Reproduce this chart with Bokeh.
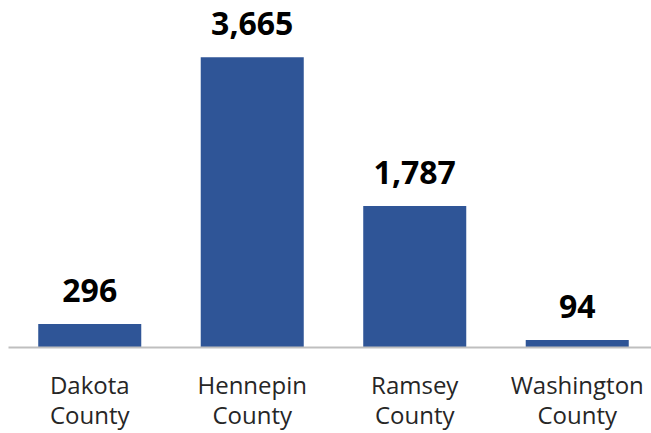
from bokeh.plotting import figure
from bokeh.models import Range1d, FixedTicker, ColumnDataSource
from bokeh.core.properties import value
from bokeh.embed import file_html
from bokeh.resources import INLINE

categories = ["Dakota\nCounty", "Hennepin\nCounty", "Ramsey\nCounty", "Washington\nCounty"]
counts = [296, 3665, 1787, 94]

xs = list(range(len(categories)))
labels = [f"{v:,}" for v in counts]
src = ColumnDataSource(dict(x=xs, top=counts, label=labels))

p = figure(width=651, height=433, output_backend="svg", toolbar_location=None,
           x_range=Range1d(-0.5, 3.457), y_range=Range1d(0, 4282),
           min_border_left=8, min_border_right=0, min_border_top=8, min_border_bottom=85)

p.vbar(x="x", top="top", bottom=0, width=0.634, source=src,
       fill_color="#2F5597", line_color=None)

p.text(x="x", y="top", text="label", source=src, text_align="center",
       text_baseline="alphabetic", y_offset=-34,
       text_font=value("Open Sans"), text_font_style="bold",
       text_font_size="32px", text_color="#000000")

p.outline_line_color = None
p.xgrid.visible = False
p.ygrid.visible = False
p.yaxis.visible = False

ax = p.xaxis[0]
ax.ticker = FixedTicker(ticks=xs)
ax.major_label_overrides = {i: c for i, c in zip(xs, categories)}
ax.major_tick_line_color = None
ax.minor_tick_line_color = None
ax.axis_line_color = "#BFBFBF"
ax.axis_line_width = 2
ax.major_label_text_font = "Open Sans"
ax.major_label_text_font_size = "24px"
ax.major_label_text_color = "#262626"
ax.major_label_text_line_height = 0.92
ax.major_label_standoff = 14

p.background_fill_color = "white"
p.border_fill_color = "white"

open("out.html", "w").write(file_html(p, INLINE))
